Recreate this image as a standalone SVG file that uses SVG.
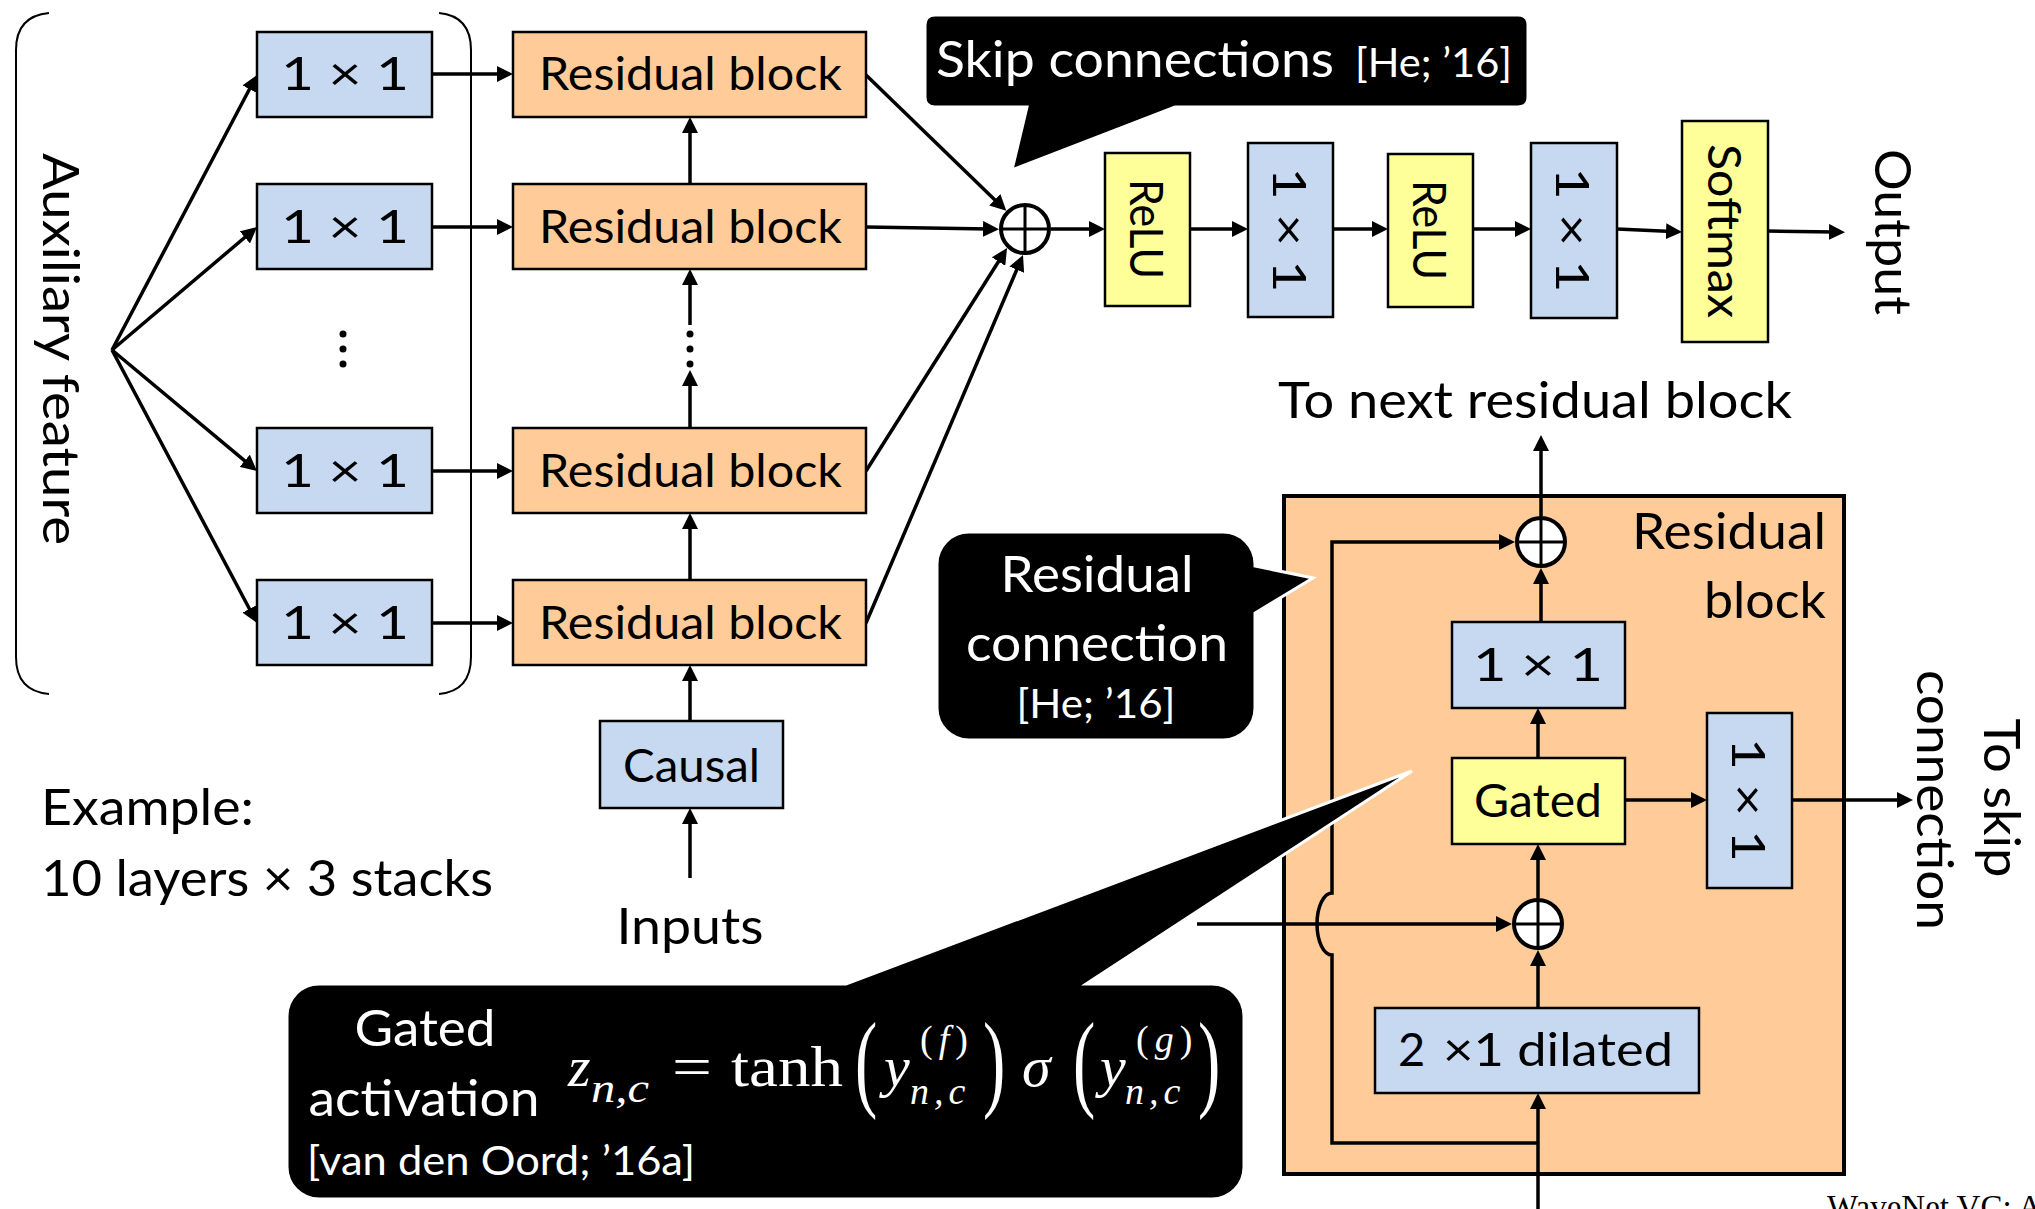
<svg xmlns="http://www.w3.org/2000/svg" width="2035" height="1209" viewBox="0 0 2035 1209">
<style>
.t{font-family:Lato,"Liberation Sans",sans-serif;font-size:47px;fill:#000}
.b{font-size:50px}
.s{font-size:41px}
.w{fill:#fff}
.blue{fill:#C6D9F1;stroke:#000;stroke-width:2.5}
.org{fill:#FFCC99;stroke:#000;stroke-width:2.5}
.yel{fill:#FFFF99;stroke:#000;stroke-width:2.5}
.c{fill:none;stroke:#000;stroke-width:3.5}
.sum{fill:#fff;stroke:#000;stroke-width:4}
.x{stroke:#000;stroke-width:3}
.call{fill:#000;stroke:#fff;stroke-width:3}
.m{font-family:"Liberation Serif",serif;fill:#fff}
.mi{font-style:italic}
.mn{font-style:normal}
.par{font-size:108px}
</style>
<defs>
<marker id="ah" viewBox="0 0 16 16" markerWidth="16" markerHeight="16" refX="6" refY="8" orient="auto" markerUnits="userSpaceOnUse"><path d="M0,0 L16,8 L0,16 z" fill="#000"/></marker>
</defs>
<rect width="2035" height="1209" fill="#fff"/>

<g id="residual-detail-box">
<rect x="1284" y="496" width="560" height="678" fill="#FFCC99" stroke="#000" stroke-width="4"/>
<text class="t b" x="1826" y="549" text-anchor="end" textLength="194" lengthAdjust="spacingAndGlyphs">Residual</text>
<text class="t b" x="1826" y="618" text-anchor="end" textLength="122" lengthAdjust="spacingAndGlyphs">block</text>
</g>

<g id="aux-bracket">
<path class="c" style="stroke-width:2" d="M49,13 Q16,16 16,50 V657 Q16,691 49,694"/>
<path class="c" style="stroke-width:2" d="M439,13 Q471,16 471,50 V657 Q471,691 439,694"/>
<text class="t b" transform="translate(43,349) rotate(90)" text-anchor="middle" textLength="392" lengthAdjust="spacingAndGlyphs">Auxiliary feature</text>
</g>

<g id="connectors">
<path class="c" marker-end="url(#ah)" d="M112,350 L252.3,83.8"/>
<path class="c" marker-end="url(#ah)" d="M112,350 L249.4,233.5"/>
<path class="c" marker-end="url(#ah)" d="M112,350 L249.3,464.6"/>
<path class="c" marker-end="url(#ah)" d="M112,350 L252.3,614.2"/>
<path class="c" marker-end="url(#ah)" d="M432,74 H503"/>
<path class="c" marker-end="url(#ah)" d="M432,227 H503"/>
<path class="c" marker-end="url(#ah)" d="M432,471 H503"/>
<path class="c" marker-end="url(#ah)" d="M432,623 H503"/>
<path class="c" marker-end="url(#ah)" d="M690,184 V127"/>
<path class="c" marker-end="url(#ah)" d="M690,428 V380"/>
<path class="c" marker-end="url(#ah)" d="M690,325 V279"/>
<path class="c" marker-end="url(#ah)" d="M690,580 V523"/>
<path class="c" marker-end="url(#ah)" d="M690,721 V675"/>
<path class="c" marker-end="url(#ah)" d="M690,878 V818"/>
<circle cx="690" cy="334" r="3.5"/><circle cx="690" cy="349" r="3.5"/><circle cx="690" cy="364" r="3.5"/>
<path class="c" marker-end="url(#ah)" d="M866,75 L999.1,203.9"/>
<path class="c" marker-end="url(#ah)" d="M866,227 L989,229"/>
<path class="c" marker-end="url(#ah)" d="M866,471 L1001.7,256.5"/>
<path class="c" marker-end="url(#ah)" d="M866,623 L1019.1,264.2"/>
<path class="c" marker-end="url(#ah)" d="M1051,229 H1095"/>
<path class="c" marker-end="url(#ah)" d="M1190,229 H1238"/>
<path class="c" marker-end="url(#ah)" d="M1333,229 H1378"/>
<path class="c" marker-end="url(#ah)" d="M1473,229 H1521"/>
<path class="c" marker-end="url(#ah)" d="M1617,229 L1672,231.5"/>
<path class="c" marker-end="url(#ah)" d="M1768,231 L1835,232"/>
<path class="c" marker-end="url(#ah)" d="M1541,516 V445"/>
<path class="c" marker-end="url(#ah)" d="M1541,622 V578"/>
<path class="c" marker-end="url(#ah)" d="M1538,758 V718"/>
<path class="c" marker-end="url(#ah)" d="M1538,898 V854"/>
<path class="c" marker-end="url(#ah)" d="M1538,1008 V960"/>
<path class="c" marker-end="url(#ah)" d="M1538,1215 V1103"/>
<path class="c" marker-end="url(#ah)" d="M1538,1143 H1332 V955 A15,31 0 0 1 1332,893 V542 H1505"/>
<path class="c" marker-end="url(#ah)" d="M1197,924 H1502"/>
<path class="c" marker-end="url(#ah)" d="M1625,800 H1697"/>
<path class="c" marker-end="url(#ah)" d="M1792,800 H1903"/>
</g>

<g id="dots-left"><circle cx="343" cy="334" r="3.5"/><circle cx="343" cy="349" r="3.5"/><circle cx="343" cy="364" r="3.5"/></g>

<g id="conv1x1-1"><rect class="blue" x="257" y="32" width="175" height="85"/><text class="t" x="345" y="90" text-anchor="middle" textLength="128" lengthAdjust="spacingAndGlyphs">1 × 1</text></g>
<g id="conv1x1-2"><rect class="blue" x="257" y="184" width="175" height="85"/><text class="t" x="345" y="243" text-anchor="middle" textLength="128" lengthAdjust="spacingAndGlyphs">1 × 1</text></g>
<g id="conv1x1-3"><rect class="blue" x="257" y="428" width="175" height="85"/><text class="t" x="345" y="487" text-anchor="middle" textLength="128" lengthAdjust="spacingAndGlyphs">1 × 1</text></g>
<g id="conv1x1-4"><rect class="blue" x="257" y="580" width="175" height="85"/><text class="t" x="345" y="639" text-anchor="middle" textLength="128" lengthAdjust="spacingAndGlyphs">1 × 1</text></g>

<g id="resblock-1"><rect class="org" x="513" y="32" width="353" height="85"/><text class="t" x="690.5" y="90" text-anchor="middle" textLength="303" lengthAdjust="spacingAndGlyphs">Residual block</text></g>
<g id="resblock-2"><rect class="org" x="513" y="184" width="353" height="85"/><text class="t" x="690.5" y="243" text-anchor="middle" textLength="303" lengthAdjust="spacingAndGlyphs">Residual block</text></g>
<g id="resblock-3"><rect class="org" x="513" y="428" width="353" height="85"/><text class="t" x="690.5" y="487" text-anchor="middle" textLength="303" lengthAdjust="spacingAndGlyphs">Residual block</text></g>
<g id="resblock-4"><rect class="org" x="513" y="580" width="353" height="85"/><text class="t" x="690.5" y="639" text-anchor="middle" textLength="303" lengthAdjust="spacingAndGlyphs">Residual block</text></g>

<g id="causal"><rect class="blue" x="600" y="721" width="183" height="87"/><text class="t" x="691.5" y="782" text-anchor="middle" textLength="137" lengthAdjust="spacingAndGlyphs">Causal</text></g>
<g id="inputs"><text class="t b" x="690" y="944" text-anchor="middle" textLength="147" lengthAdjust="spacingAndGlyphs">Inputs</text></g>
<g id="example">
<text class="t b" x="41" y="825" textLength="213" lengthAdjust="spacingAndGlyphs">Example:</text>
<text class="t b" x="41" y="896" textLength="452" lengthAdjust="spacingAndGlyphs">10 layers × 3 stacks</text>
</g>

<g id="skip-sum"><circle class="sum" cx="1025" cy="229" r="24"/><path class="x" d="M1001,229 H1049 M1025,205 V253"/></g>
<g id="relu-1"><rect class="yel" x="1105" y="153" width="85" height="153"/><text class="t" transform="translate(1130,229) rotate(90)" text-anchor="middle" textLength="100" lengthAdjust="spacingAndGlyphs">ReLU</text></g>
<g id="out1x1-1"><rect class="blue" x="1248" y="143" width="85" height="174"/><text class="t" transform="translate(1273,230) rotate(90)" text-anchor="middle" textLength="125" lengthAdjust="spacingAndGlyphs">1 × 1</text></g>
<g id="relu-2"><rect class="yel" x="1388" y="154" width="85" height="153"/><text class="t" transform="translate(1413,230) rotate(90)" text-anchor="middle" textLength="100" lengthAdjust="spacingAndGlyphs">ReLU</text></g>
<g id="out1x1-2"><rect class="blue" x="1531" y="143" width="86" height="175"/><text class="t" transform="translate(1556,230) rotate(90)" text-anchor="middle" textLength="125" lengthAdjust="spacingAndGlyphs">1 × 1</text></g>
<g id="softmax"><rect class="yel" x="1682" y="121" width="86" height="221"/><text class="t" transform="translate(1708,231) rotate(90)" text-anchor="middle" textLength="174" lengthAdjust="spacingAndGlyphs">Softmax</text></g>
<g id="output"><text class="t b" transform="translate(1875,232) rotate(90)" text-anchor="middle" textLength="166" lengthAdjust="spacingAndGlyphs">Output</text></g>

<g id="to-next"><text class="t b" x="1278" y="418" textLength="514" lengthAdjust="spacingAndGlyphs">To next residual block</text></g>

<g id="res-sum-top"><circle class="sum" cx="1541" cy="542" r="24"/><path class="x" d="M1517,542 H1565 M1541,518 V566"/></g>
<g id="res-1x1"><rect class="blue" x="1452" y="622" width="173" height="86"/><text class="t" x="1538" y="681" text-anchor="middle" textLength="130" lengthAdjust="spacingAndGlyphs">1 × 1</text></g>
<g id="gated"><rect class="yel" x="1452" y="758" width="173" height="86"/><text class="t" x="1538" y="817" text-anchor="middle" textLength="128" lengthAdjust="spacingAndGlyphs">Gated</text></g>
<g id="skip-1x1"><rect class="blue" x="1707" y="713" width="85" height="175"/><text class="t" transform="translate(1732,800) rotate(90)" text-anchor="middle" textLength="124" lengthAdjust="spacingAndGlyphs">1 × 1</text></g>
<g id="res-sum-bottom"><circle class="sum" cx="1538" cy="924" r="24"/><path class="x" d="M1514,924 H1562 M1538,900 V948"/></g>
<g id="dilated"><rect class="blue" x="1375" y="1008" width="324" height="85"/>
<text class="t" x="1398" y="1066">2</text>
<text class="t" x="1443" y="1066" textLength="230" lengthAdjust="spacingAndGlyphs">×1 dilated</text></g>
<g id="to-skip">
<text class="t b" transform="translate(1984,798) rotate(90)" text-anchor="middle" textLength="159" lengthAdjust="spacingAndGlyphs">To skip</text>
<text class="t b" transform="translate(1917,800) rotate(90)" text-anchor="middle" textLength="260" lengthAdjust="spacingAndGlyphs">connection</text>
</g>

<g id="callout-skip">
<path class="call" d="M935,15 H1518 Q1528,15 1528,25 V97 Q1528,107 1518,107 H1175 L1012,170 L1027,107 H935 Q925,107 925,97 V25 Q925,15 935,15 Z"/>
<text class="t b w" x="936" y="77" textLength="398" lengthAdjust="spacingAndGlyphs">Skip connections</text>
<text class="t s w" x="1355" y="77" textLength="157" lengthAdjust="spacingAndGlyphs">[He; ’16]</text>
</g>

<g id="callout-residual">
<path class="call" d="M969,532 H1223 A32,32 0 0 1 1255,564 V566 L1313,578 L1255,613 V708 A32,32 0 0 1 1223,740 H969 A32,32 0 0 1 937,708 V564 A32,32 0 0 1 969,532 Z"/>
<text class="t b w" x="1097" y="592" text-anchor="middle" textLength="193" lengthAdjust="spacingAndGlyphs">Residual</text>
<text class="t b w" x="1097" y="661" text-anchor="middle" textLength="262" lengthAdjust="spacingAndGlyphs">connection</text>
<text class="t s w" x="1096" y="718" text-anchor="middle" textLength="159" lengthAdjust="spacingAndGlyphs">[He; ’16]</text>
</g>

<g id="callout-gated">
<path class="call" d="M319,984 H846 L1412,771 L1086,984 H1212 A32,32 0 0 1 1244,1016 V1167 A32,32 0 0 1 1212,1199 H319 A32,32 0 0 1 287,1167 V1016 A32,32 0 0 1 319,984 Z"/>
<text class="t b w" x="425" y="1046" text-anchor="middle" textLength="141" lengthAdjust="spacingAndGlyphs">Gated</text>
<text class="t b w" x="424" y="1116" text-anchor="middle" textLength="231" lengthAdjust="spacingAndGlyphs">activation</text>
<text class="t s w" x="307" y="1175" textLength="388" lengthAdjust="spacingAndGlyphs">[van den Oord; ’16a]</text>
<g class="m">
<text class="mi" x="568" y="1086" font-size="58">z</text>
<text class="mi" x="591" y="1102" font-size="40" textLength="58" lengthAdjust="spacingAndGlyphs">n,c</text>
<text x="672" y="1086" font-size="58" textLength="40" lengthAdjust="spacingAndGlyphs">=</text>
<text x="731" y="1086" font-size="58" textLength="112" lengthAdjust="spacingAndGlyphs">tanh</text>
<text class="par" transform="translate(855,1097) scale(0.62,1)">(</text>
<text class="mi" font-size="58"><tspan x="884" y="1086">y</tspan><tspan class="mn" font-size="38" x="920" y="1052" letter-spacing="6">(<tspan class="mi">f</tspan>)</tspan><tspan font-size="38" x="910" y="1104" letter-spacing="5">n,c</tspan></text>
<text class="par" transform="translate(983,1097) scale(0.62,1)">)</text>
<text class="mi" x="1022" y="1086" font-size="58">σ</text>
<text class="par" transform="translate(1073,1097) scale(0.62,1)">(</text>
<text class="mi" font-size="58"><tspan x="1100" y="1086">y</tspan><tspan class="mn" font-size="38" x="1136" y="1052" letter-spacing="6">(<tspan class="mi">g</tspan>)</tspan><tspan font-size="38" x="1125" y="1104" letter-spacing="5">n,c</tspan></text>
<text class="par" transform="translate(1198,1097) scale(0.62,1)">)</text>
</g>
</g>

<g id="footer"><text x="1827" y="1218" font-family="Liberation Serif,serif" font-size="33">WaveNet VC: A</text></g>
</svg>
